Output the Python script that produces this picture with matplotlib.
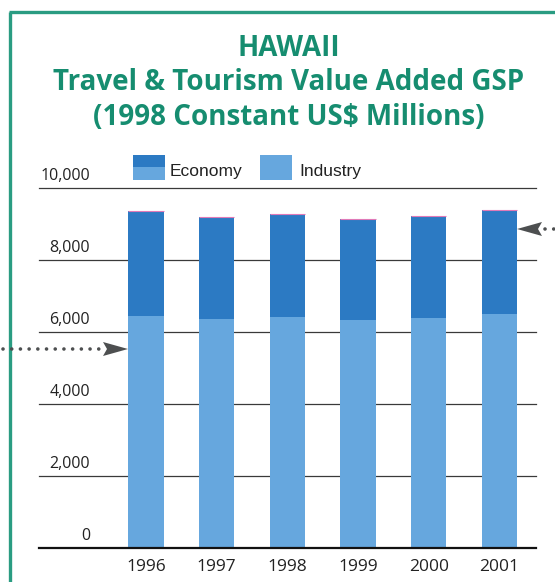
import matplotlib.pyplot as plt
from matplotlib.patches import Polygon, Rectangle
from matplotlib.lines import Line2D

# Hawaii travel & tourism value added GSP, 1998 constant US$ millions
years = ["1996", "1997", "1998", "1999", "2000", "2001"]
economy = [9360, 9190, 9280, 9130, 9210, 9390]
industry = [6440, 6370, 6425, 6335, 6390, 6500]
yticks = [0, 2000, 4000, 6000, 8000, 10000]
ytick_labels = ["0", "2,000", "4,000", "6,000", "8,000", "10,000"]

W, H = 555, 582
DARK = "#2c7ac3"
LIGHT = "#66a7de"
GREEN = "#168d70"
BORDER = "#2a9c82"
ARROW = "#4d4f50"


def px(x, y):
    # pixel position (origin top-left) -> figure fraction
    return x / W, 1 - y / H


fig = plt.figure(figsize=(W / 100, H / 100), dpi=100)
ax = fig.add_axes([39 / W, 34 / H, 497 / W, 360 / H])

x = list(range(len(years)))
ax.bar(x, economy, width=0.5, color=DARK, zorder=2)
ax.bar(x, industry, width=0.5, color=LIGHT, zorder=3)
ax.hlines(economy, [i - 0.25 for i in x], [i + 0.25 for i in x],
          color="#e07ab8", lw=0.8, zorder=4)

ax.set_xlim(-1.513, 5.517)
ax.set_ylim(0, 10000)

for v in yticks[1:]:
    ax.axhline(v, color="#3a3a3a", lw=0.9, zorder=1, clip_on=False)
ax.axhline(0, color="#111111", lw=1.6, zorder=5, clip_on=False)

for v, lab in zip(yticks, ytick_labels):
    ax.annotate(lab, xy=(0.1026, v), xycoords=ax.get_yaxis_transform(),
                xytext=(0, 8.6), textcoords="offset points",
                ha="right", va="center", fontsize=11.5, family="Open Sans",
                color="#222222", annotation_clip=False)

ax.set_xticks(x, years)
ax.set_yticks([])
ax.tick_params(axis="x", length=0, pad=8, labelsize=12.5, labelcolor="#222222")
for t in ax.get_xticklabels():
    t.set_family("Open Sans")
for s in ax.spines.values():
    s.set_visible(False)

# title
title_lines = ["HAWAII", "Travel & Tourism Value Added GSP",
               "(1998 Constant US$ Millions)"]
for line, ty in zip(title_lines, [48, 83, 118]):
    fig.text(*px(289, ty), line, ha="center", va="center", fontsize=20,
             fontweight="bold", family="Open Sans", color=GREEN)

# legend
fig.add_artist(Rectangle(px(133, 180), 32 / W, 13 / H, transform=fig.transFigure,
                         color=LIGHT, lw=0))
fig.add_artist(Rectangle(px(133, 167), 32 / W, 12 / H, transform=fig.transFigure,
                         color=DARK, lw=0))
fig.add_artist(Rectangle(px(260, 180), 32 / W, 25 / H, transform=fig.transFigure,
                         color=LIGHT, lw=0))
fig.text(*px(170, 171), "Economy", ha="left", va="center", fontsize=12.5,
         family="Liberation Sans", color="#222222")
fig.text(*px(299, 171), "Industry", ha="left", va="center", fontsize=12.5,
         family="Liberation Sans", color="#222222")

# frame
fig.add_artist(Line2D([10 / W, 10 / W], [0, 1 - 12 / H], transform=fig.transFigure,
                      color=BORDER, lw=2.4, solid_capstyle="butt"))
fig.add_artist(Line2D([9 / W, 1], [1 - 12 / H, 1 - 12 / H], transform=fig.transFigure,
                      color=BORDER, lw=2.4, solid_capstyle="butt"))

# pointer arrows
dots = dict(transform=fig.transFigure, color=ARROW, lw=2.6,
            linestyle=(0, (0.01, 2.4)), dash_capstyle="round")
fig.add_artist(Line2D([3 / W, 102 / W], [1 - 349 / H] * 2, **dots))
fig.add_artist(Polygon([px(103, 342), px(128, 349), px(103, 356), px(107, 349)],
                       closed=True, transform=fig.transFigure, color=ARROW, lw=0))
fig.add_artist(Line2D([545 / W, 556 / W], [1 - 229 / H] * 2, **dots))
fig.add_artist(Polygon([px(542, 222), px(517, 229), px(542, 236), px(538, 229)],
                       closed=True, transform=fig.transFigure, color=ARROW, lw=0))

fig.savefig("out.png", dpi=100)
